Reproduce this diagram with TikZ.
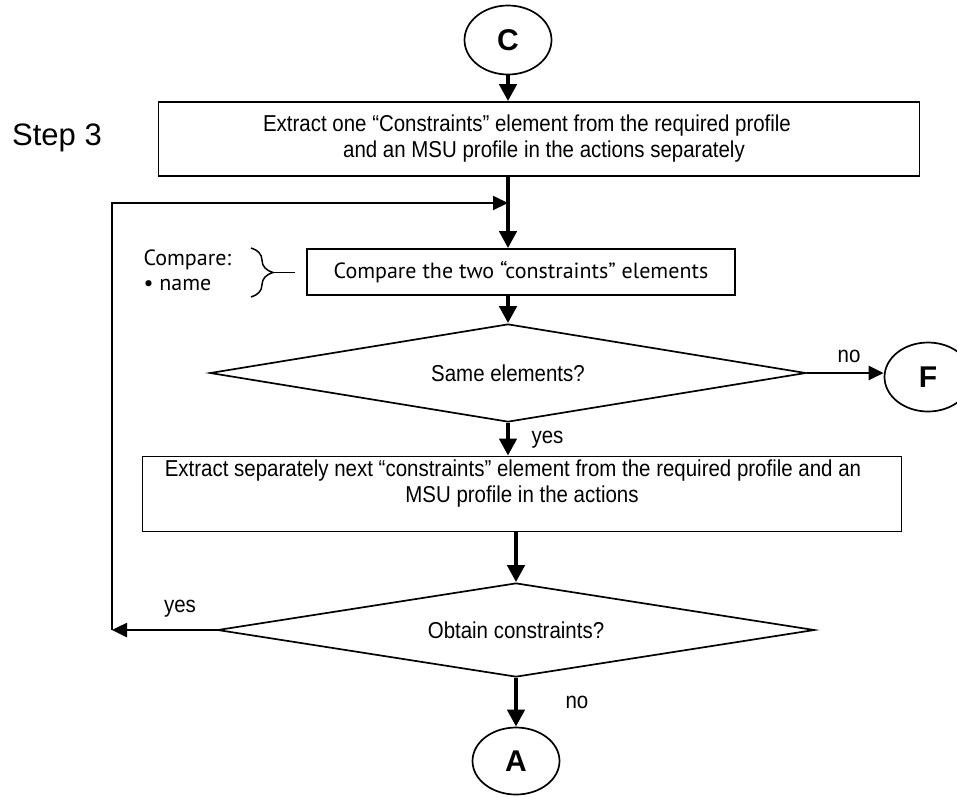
\documentclass[tikz,border=0pt]{standalone}
\usepackage{fontspec}
\setmainfont{Liberation Sans}
\newfontfamily\narrowfont[FakeStretch=0.89]{Liberation Sans}
\newfontfamily\humanfont{PT Sans}
\usetikzlibrary{shapes.geometric, arrows.meta, positioning, decorations.pathreplacing}

\begin{document}
\begin{tikzpicture}[
    x=1pt, y=-1pt,
    process/.style={draw, line width=1.7pt, inner sep=0pt, align=center, font=\narrowfont\fontsize{23}{26}\selectfont},
    decision/.style={draw, diamond, aspect=6, inner sep=0pt, line width=1.7pt, font=\narrowfont\fontsize{23}{26}\selectfont},
    connector/.style={draw, ellipse, line width=1.7pt, minimum width=87pt, minimum height=69pt, inner sep=0pt, font=\bfseries\fontsize{30}{30}\selectfont},
    tag/.style={font=\narrowfont\fontsize{23}{23}\selectfont},
    flow/.style={-{Triangle[length=17pt, width=17pt]}, line width=4.5pt},
    branch/.style={-{Triangle[length=15pt, width=14pt]}, line width=2.6pt},
    back/.style={line width=2pt},
]
\useasboundingbox (0,0) rectangle (957,796);

\node[connector] (c) at (508,40) {C};
\node[font=\fontsize{31}{31}\selectfont] (step) at (57,138) {Step 3};
\node[process, minimum width=761pt, minimum height=74pt] (extract) at (539,139)
    {Extract one “Constraints” element from the required profile\hspace*{24pt}\\ \hspace*{10pt}and an MSU profile in the actions separately};
\coordinate (join) at (508,203);
\coordinate (loop) at (112,203);
\node[process, font=\humanfont\fontsize{22}{25}\selectfont, minimum width=428pt, minimum height=46pt] (compare) at (521,272)
    {Compare the two “constraints” elements};
\node[anchor=west, align=left, font=\humanfont\fontsize{22}{25}\selectfont] (items) at (140,270) {Compare:\\• name};
\coordinate (bracetop) at (251,248);
\coordinate (bracebot) at (251,297);
\coordinate (bracetip) at (273,272.5);
\node[decision, minimum width=596pt, minimum height=98pt] (same) at (508,373) {Same elements?};
\node[connector] (f) at (928,377) {F};
\node[process, minimum width=759pt, minimum height=75pt] (next) at (522,494)
    {Extract separately next “constraints” element from the required profile and an\hspace*{18pt}\\ MSU profile in the actions\\ \mbox{}};
\node[decision, minimum width=597pt, minimum height=94pt] (obtain) at (516,630) {Obtain constraints?};
\node[connector, minimum height=67pt] (a) at (516,761) {A};
\coordinate (yesend) at (112,630);

% main flow
\draw[flow] (c) -- (extract.north -| c);
\draw[flow] (extract.south -| join) -- (compare.north -| join);
\draw[flow] (compare.south -| same.north) -- (same.north);
\draw[flow] (same.south) -- node[tag, right=18pt] {yes} (next.north -| same.south);
\draw[flow] (next.south -| obtain.north) -- (obtain.north);
\draw[flow] (obtain.south) -- node[tag, right=44pt] {no} (a.north);

% branches
\draw[branch] (same.east) -- node[tag, above=6pt, pos=0.55] {no} (same.east -| f.west);
\draw[branch] (obtain.west) -- node[tag, above=8pt, pos=0.35] {yes} (yesend);
\draw[back, -{Triangle[length=15pt, width=14pt]}] (yesend) -- (loop) -- (join);

% brace
\draw[line width=1.5pt, decorate, decoration={brace, amplitude=22pt}] (bracetop) -- (bracebot);
\draw[line width=1.5pt] (bracetip) -- ++(22,0);
\end{tikzpicture}
\end{document}
